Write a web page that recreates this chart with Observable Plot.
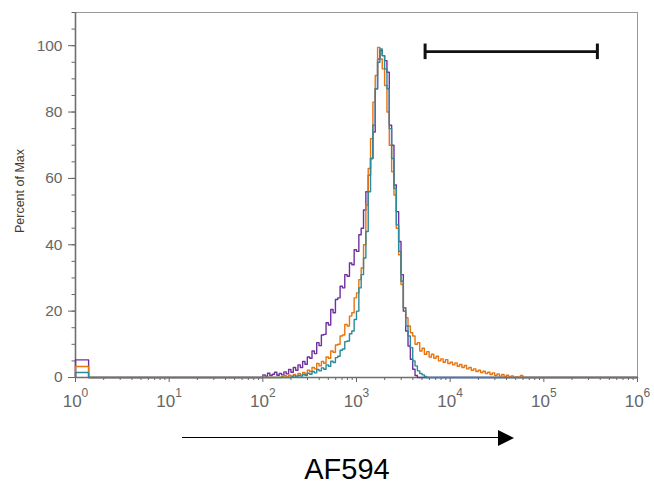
<!DOCTYPE html>
<html><head><meta charset="utf-8">
<script src="https://cdn.jsdelivr.net/npm/d3@7"></script>
<script src="https://cdn.jsdelivr.net/npm/@observablehq/plot@0.6"></script>
<style>
body{margin:0;background:#fff;font-family:"Liberation Sans",Arial,sans-serif}
#wrap{position:relative;width:654px;height:486px}
#arrowLine{position:absolute;left:182px;top:437px;width:318px;border-top:1.7px solid #000}
#arrowHead{position:absolute;left:498px;top:430px;width:0;height:0;border-left:16px solid #000;border-top:8px solid transparent;border-bottom:8px solid transparent}
#xlabel{position:absolute;left:247px;top:454px;width:200px;text-align:center;font-size:29px;line-height:30px;color:#000}
</style></head><body>
<div id="wrap"><div id="chart"></div><div id="arrowLine"></div><div id="arrowHead"></div><div id="xlabel">AF594</div></div>
<script>
// Series
const seriesNames = ["Sample A", "Sample B", "Sample C"];
const seriesColors = ["#7030a0", "#e8740e", "#2b8a9b"];
// first bin (values piled at 10^0)
const firstBin = [5.3, 3.3, 1.5];
const firstBinEndLog = 0.14;
// histogram bins, log10 spacing
const binStep = 0.025;
const startLog = [2.0, 2.2, 2.3];
const purpleVals = [0.8,0.4,1.3,0.6,1.0,1.6,0.7,1.2,0.8,1.7,
  1.1,2.4,1.6,3.0,2.2,3.8,3.0,4.8,4.0,6.2,
  5.8,8.0,7.2,10.5,9.6,12.8,13.0,16.5,15.8,20.5,
  19.5,23.5,24.0,27.5,27.0,31.0,30.5,34.5,34.0,38.5,
  38.0,43.0,45.0,50.5,56.0,61.0,66.0,74.0,87.0,96.0,
  98.5,97.0,95.5,92.0,76.0,70.0,58.0,50.0,41.0,31.0,
  20.0,14.0,9.5,5.5,2.5,0.6,0];
const orangeVals = [0.3,0.6,0.2,0.7,0.4,0.9,0.5,1.2,0.8,1.5,
  1.0,2.2,1.8,3.0,2.6,4.2,3.5,4.8,4.3,6.2,
  5.8,8.0,7.6,9.8,10.0,12.5,12.8,16.0,15.5,18.5,
  19.5,24.0,25.5,29.5,33.0,40.0,52.0,63.0,72.0,83.0,
  91.0,99.5,96.0,93.0,88.0,80.0,70.0,62.0,55.0,45.0,
  37.0,28.0,21.0,18.0,15.5,13.5,12.5,10.0,10.5,8.0,
  8.8,7.0,7.8,6.2,7.0,5.8,6.4,5.0,5.6,4.6,
  5.4,4.2,4.6,3.8,4.4,3.4,3.9,3.0,3.6,2.6,
  3.0,2.2,2.6,1.8,2.2,1.5,1.9,1.2,1.6,0.9,
  1.4,0.6,1.1,0.4,0.9,0.3,0.7,0.2,0.5,0,
  0.2,0,0.6,0,0];
const tealVals = [0.2,0.5,0.2,0.6,0.4,0.9,0.6,1.3,1.0,1.8,
  1.4,2.4,2.0,2.9,2.5,3.8,3.4,4.9,4.5,6.0,
  6.4,8.2,8.6,10.8,11.0,13.2,14.0,17.5,20.0,27.0,
  31.0,36.0,44.0,56.0,66.0,76.0,87.0,95.0,99.0,97.0,
  93.0,87.0,75.0,66.0,57.0,46.0,38.0,29.0,21.0,15.5,
  12.5,9.0,5.0,3.5,2.0,1.2,0.8,0.3,0];
const allVals = [purpleVals, orangeVals, tealVals];

// axes
const xDomain = [1, 1e6];
const yDomain = [0, 110];
const xMajor = [1, 10, 100, 1e3, 1e4, 1e5, 1e6];
const xMinor = d3.range(0, 6).flatMap(e => d3.range(2, 10).map(m => m * 10 ** e));
const yMajor = [0, 20, 40, 60, 80, 100];
const yMinor = d3.range(0, 111, 5);
const yLabel = "Percent of Max";

// gate marker
const gateRange = [5400, 373000];
const gateY = 98.2;
const gateCap = [95.8, 100.5];

const data = [];
seriesNames.forEach((s, i) => {
  data.push({s, x: 1, y: 0}, {s, x: 1, y: firstBin[i]}, {s, x: 10 ** firstBinEndLog, y: 0});
  allVals[i].forEach((v, j) => data.push({s, x: 10 ** (startLog[i] + j * binStep), y: v}));
  data.push({s, x: 1e6, y: 0});
});

const axisColor = "#666";
const chart = Plot.plot({
  width: 654, height: 410,
  marginLeft: 75, marginRight: 17, marginTop: 12, marginBottom: 33,
  style: {fontFamily: "'Liberation Sans', Arial, sans-serif", background: "#fff"},
  x: {type: "log", domain: xDomain, axis: null},
  y: {domain: yDomain, axis: null},
  color: {domain: seriesNames, range: seriesColors},
  marks: [
    Plot.frame({stroke: "#999", strokeWidth: 1}),
    Plot.axisY({ticks: yMinor, tickSize: 3.5, tickFormat: () => "", label: null, color: axisColor}),
    Plot.axisY({ticks: yMajor, tickSize: 7, tickPadding: 6, fontSize: 15.5, label: null, color: axisColor}),
    Plot.axisX({ticks: xMinor, tickSize: 3, tickFormat: () => "", label: null, color: axisColor}),
    Plot.axisX({ticks: xMajor, tickSize: 5, tickPadding: 12, fontSize: 17, label: null, color: axisColor,
      tickFormat: d => "10^" + Math.round(Math.log10(d))}),
    Plot.ruleX([xDomain[0]], {stroke: "#6e6e6e", strokeWidth: 1.6}),
    Plot.ruleY([0], {stroke: "#6e6e6e", strokeWidth: 1.6}),
    Plot.line(data, {x: "x", y: "y", z: "s", stroke: "s", curve: "step-after", strokeWidth: 1.4}),
    Plot.ruleY([gateY], {x1: gateRange[0], x2: gateRange[1], stroke: "#111", strokeWidth: 2.7}),
    Plot.ruleX(gateRange, {y1: gateCap[0], y2: gateCap[1], stroke: "#111", strokeWidth: 3}),
    Plot.text([yLabel], {frameAnchor: "left", textAnchor: "middle", dx: -56, dy: -4, rotate: -90, fontSize: 12.5, fill: "#463a32"})
  ]
});
document.getElementById("chart").appendChild(chart);
d3.select(chart).selectAll("text").each(function () {
  const t = this.textContent;
  if (/^10\^\d$/.test(t)) {
    const [b, e] = t.split("^");
    this.textContent = b;
    d3.select(this).append("tspan").attr("dy", "-10").attr("font-size", 12).text(e);
  }
});
</script>
</body></html>
